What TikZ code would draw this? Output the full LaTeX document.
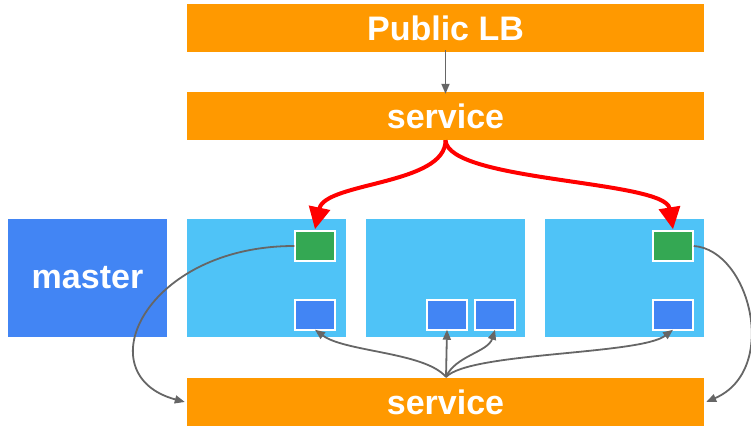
\documentclass[tikz,border=0pt]{standalone}
\usepackage{fontspec}
\setmainfont{Liberation Sans}
\usetikzlibrary{arrows.meta}
\definecolor{lborange}{HTML}{FF9900}
\definecolor{nodeblue}{HTML}{4FC3F7}
\definecolor{masterblue}{HTML}{4285F4}
\definecolor{podgreen}{HTML}{34A853}
\definecolor{podblue}{HTML}{4285F4}
\definecolor{linkgray}{HTML}{666666}
\definecolor{hotred}{HTML}{FF0000}
\tikzset{
  bar/.style={fill=lborange, draw=none, inner sep=0, minimum width=517pt, minimum height=48pt,
    text=white, font=\bfseries\fontsize{34}{34}\selectfont},
  vm/.style={fill=nodeblue, draw=none, inner sep=0, minimum width=159pt, minimum height=118pt},
  masterbox/.style={fill=masterblue, draw=none, inner sep=0, minimum width=159pt, minimum height=118pt,
    text=white, font=\bfseries\fontsize{34}{34}\selectfont},
  pod/.style={draw=white, line width=1.5pt, inner sep=0, minimum width=40pt, minimum height=30pt},
  greenpod/.style={pod, fill=podgreen},
  bluepod/.style={pod, fill=podblue},
  link/.style={draw=linkgray, line width=1.8pt, -{Triangle[length=10pt,width=8pt]}},
  hotlink/.style={draw=hotred, line width=4pt, -{Triangle[length=22pt,width=21pt]}}
}
\begin{document}
\begin{tikzpicture}[x=1pt,y=-1pt]
\useasboundingbox (0,0) rectangle (751,427);
% load balancer and services
\node[bar] (lb) at (445.5,28) {Public LB};
\node[bar] (svc) at (445.5,116) {service};
\node[bar] (svc2) at (445.5,402) {service};
% master and worker nodes
\node[masterbox] (master) at (87.5,278) {master};
\node[vm] (n1) at (266.5,278) {};
\node[vm] (n2) at (445.5,278) {};
\node[vm] (n3) at (624.5,278) {};
% pods
\node[greenpod] (g1) at (315,246) {};
\node[greenpod] (g3) at (673,246) {};
\node[bluepod] (b1) at (315,315) {};
\node[bluepod] (b2a) at (447,315) {};
\node[bluepod] (b2b) at (495,315) {};
\node[bluepod] (b3) at (673,315) {};
% traffic from the public load balancer
\draw[link] ([yshift=2pt]lb.south) -- ([yshift=-2pt]svc.north);
\draw[hotlink] (svc.south) .. controls (446,185) and (325,182) .. ([yshift=1pt]g1.north);
\draw[hotlink] (svc.south) .. controls (448,182) and (665,180) .. ([yshift=1pt]g3.north);
% internal service fan-out
\coordinate (hub) at (446,377);
\draw[link] (hub) .. controls (425,352) and (345,352) .. ([yshift=1pt]b1.south);
\draw[link] (hub) -- ([yshift=1pt]b2a.south);
\draw[link] (hub) .. controls (455,356) and (488,352) .. ([yshift=1pt]b2b.south);
\draw[link] (hub) .. controls (470,352) and (640,355) .. ([yshift=1pt]b3.south);
% pods calling the internal service
\draw[link] (g1.west) .. controls (145,246) and (85,375) .. ([xshift=-2pt]svc2.west);
\draw[link] (g3.east) .. controls (750,250) and (780,370) .. ([xshift=2pt]svc2.east);
\end{tikzpicture}
\end{document}
